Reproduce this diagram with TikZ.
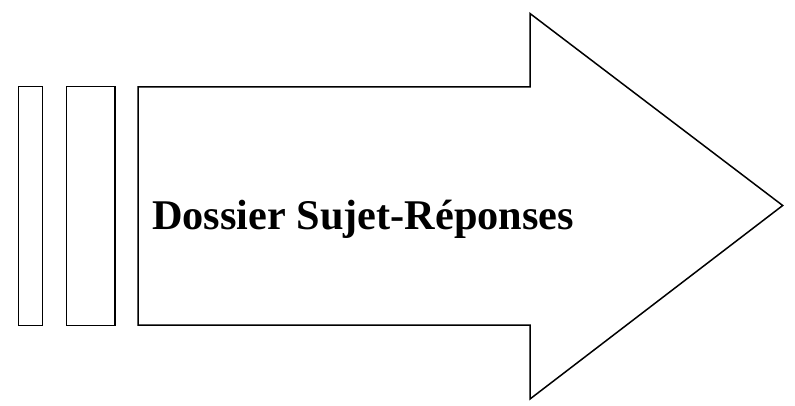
\documentclass[tikz,border=0pt]{standalone}
\usepackage{fontspec}
\setmainfont{Liberation Serif}
\begin{document}
\begin{tikzpicture}[x=1pt,y=1pt,line join=miter,
  shapeline/.style={draw=black,line width=1.5pt}]
\useasboundingbox (0,0) rectangle (795,405);
\draw[shapeline] (18.5,79.5) rectangle (42.5,318.5);
\draw[shapeline] (66.7,79.5) rectangle (115,318.5);
\draw[shapeline] (138,318) -- (530,318) -- (530,391.5) -- (782.7,199.5) -- (530,6) -- (530,80) -- (138,80) -- cycle;
\node[anchor=base west,inner sep=0pt,font=\fontsize{42.3}{48}\selectfont\bfseries] (t) at (152,175.7) {Dossier Sujet-Réponses};
\end{tikzpicture}
\end{document}
